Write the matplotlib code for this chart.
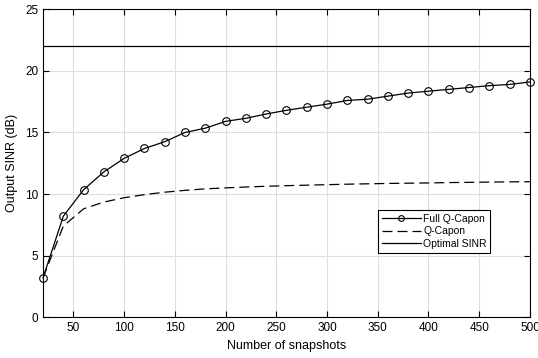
import numpy as np
import matplotlib.pyplot as plt

plt.rcParams['font.family'] = ['Liberation Sans', 'DejaVu Sans']

# data
snapshots = [20, 40, 60, 80, 100, 120, 140, 160, 180, 200, 220, 240, 260,
             280, 300, 320, 340, 360, 380, 400, 420, 440, 460, 480, 500]
full_qcapon = [3.2, 8.2, 10.35, 11.8, 12.9, 13.7, 14.25, 15.0, 15.35, 15.9,
               16.15, 16.5, 16.8, 17.05, 17.3, 17.6, 17.7, 17.95, 18.2, 18.35,
               18.5, 18.65, 18.8, 18.9, 19.1]
qcapon = [3.2, 7.4, 8.8, 9.35, 9.7, 9.95, 10.15, 10.3, 10.42, 10.5,
          10.57, 10.63, 10.68, 10.72, 10.76, 10.8, 10.83, 10.86, 10.88, 10.9,
          10.93, 10.95, 10.97, 10.99, 11.0]
optimal = [22.0] * len(snapshots)

fig = plt.figure(figsize=(5.38, 3.58), dpi=100)
ax = fig.add_axes([0.08, 0.114, 0.905, 0.86])

ax.plot(snapshots, full_qcapon, 'k-o', linewidth=0.9, markersize=5.5,
        markerfacecolor='none', markeredgewidth=0.8, label='Full Q-Capon', clip_on=False)
ax.plot(snapshots, qcapon, 'k--', linewidth=0.9, dashes=(8, 4), label='Q-Capon')
ax.plot(snapshots, optimal, 'k-', linewidth=0.9, label='Optimal SINR')

ax.set_xlim(20, 500)
ax.set_ylim(0, 25)
ax.set_xticks(np.arange(50, 501, 50))
ax.set_yticks(np.arange(0, 26, 5))
ax.grid(True, color='#dedede', linewidth=0.8)
ax.set_axisbelow(True)
ax.tick_params(direction='in', top=True, right=True, labelsize=8.5, length=4, width=0.8)
for s in ax.spines.values():
    s.set_linewidth(0.8)

ax.set_xlabel('Number of snapshots', fontsize=9, labelpad=4)
ax.set_ylabel('Output SINR (dB)', fontsize=9, labelpad=5)

leg = ax.legend(loc='upper left', bbox_to_anchor=(0.688, 0.348), fontsize=7.5,
                frameon=True, fancybox=False, edgecolor='black', framealpha=1,
                handlelength=3.8, handletextpad=0.2, borderpad=0.35, labelspacing=0.25,
                borderaxespad=0, markerscale=0.75, numpoints=1)
leg.get_frame().set_linewidth(0.8)

plt.savefig('out.png', dpi=100)
